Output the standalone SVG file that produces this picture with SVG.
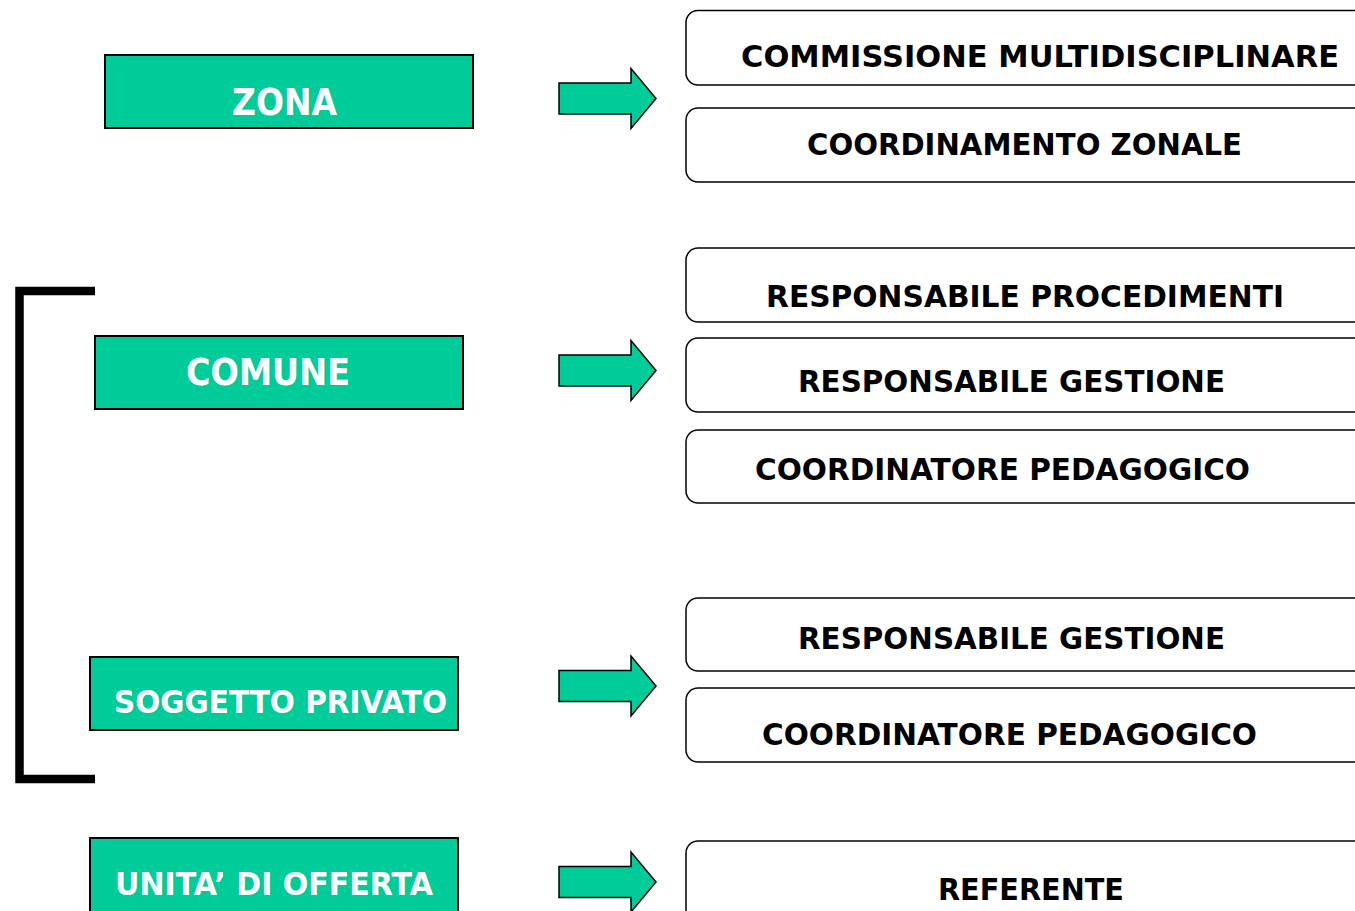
<svg xmlns="http://www.w3.org/2000/svg" width="1355" height="911" viewBox="0 0 1355 911">
<defs>
<style>
.lv{fill:#00CC99;stroke:#000;stroke-width:2}
.lt{font-family:"DejaVu Sans",Verdana,sans-serif;font-weight:bold;fill:#fff}
.rb{fill:#fff;stroke:#000;stroke-width:1.5}
.rt{font-family:"DejaVu Sans",Verdana,sans-serif;font-weight:bold;fill:#000;font-size:30px}
.ar{fill:#00CC99;stroke:#000;stroke-width:1.5;stroke-linejoin:miter}
.br{fill:none;stroke:#000;stroke-width:8.5}
</style>
<path id="arr" d="M559,-15.5 H631 V-30 L656,0 L631,30 V15.5 H559 Z"/>
</defs>
<rect width="1355" height="911" fill="#fff"/>

<g id="connectors">
<path class="br" d="M95,291 H19.5 V779 H95"/>
<use href="#arr" class="ar" transform="translate(0,98.5)"/>
<use href="#arr" class="ar" transform="translate(0,370.5)"/>
<use href="#arr" class="ar" transform="translate(0,686)"/>
<use href="#arr" class="ar" transform="translate(0,882)"/>
</g>

<g id="zona"><rect class="lv" x="105" y="55" width="368" height="73"/><text class="lt" x="232" y="115" font-size="37" textLength="105" lengthAdjust="spacingAndGlyphs">ZONA</text></g>
<g id="comune"><rect class="lv" x="95" y="336" width="368" height="73"/><text class="lt" x="186" y="385" font-size="37" textLength="164" lengthAdjust="spacingAndGlyphs">COMUNE</text></g>
<g id="soggetto"><rect class="lv" x="90" y="657" width="368" height="73"/><text class="lt" x="114" y="713" font-size="32" textLength="333" lengthAdjust="spacingAndGlyphs">SOGGETTO PRIVATO</text></g>
<g id="unita"><rect class="lv" x="90" y="838" width="368" height="90"/><text class="lt" x="115" y="895" font-size="32" textLength="318" lengthAdjust="spacingAndGlyphs">UNITA’ DI OFFERTA</text></g>

<g id="commissione"><rect class="rb" x="686" y="10.5" width="720" height="74.5" rx="12"/><text class="rt" x="741" y="67" textLength="598" lengthAdjust="spacingAndGlyphs">COMMISSIONE MULTIDISCIPLINARE</text></g>
<g id="coordinamento"><rect class="rb" x="686" y="108" width="720" height="74" rx="12"/><text class="rt" x="807" y="155" textLength="435" lengthAdjust="spacingAndGlyphs">COORDINAMENTO ZONALE</text></g>
<g id="resp-proc"><rect class="rb" x="686" y="248" width="720" height="74" rx="12"/><text class="rt" x="766" y="307" textLength="518" lengthAdjust="spacingAndGlyphs">RESPONSABILE PROCEDIMENTI</text></g>
<g id="resp-gest-1"><rect class="rb" x="686" y="338" width="720" height="74" rx="12"/><text class="rt" x="798" y="392" textLength="427" lengthAdjust="spacingAndGlyphs">RESPONSABILE GESTIONE</text></g>
<g id="coord-ped-1"><rect class="rb" x="686" y="430" width="720" height="73" rx="12"/><text class="rt" x="755" y="480" textLength="495" lengthAdjust="spacingAndGlyphs">COORDINATORE PEDAGOGICO</text></g>
<g id="resp-gest-2"><rect class="rb" x="686" y="598" width="720" height="73" rx="12"/><text class="rt" x="798" y="649" textLength="427" lengthAdjust="spacingAndGlyphs">RESPONSABILE GESTIONE</text></g>
<g id="coord-ped-2"><rect class="rb" x="686" y="688" width="720" height="74" rx="12"/><text class="rt" x="762" y="745" textLength="495" lengthAdjust="spacingAndGlyphs">COORDINATORE PEDAGOGICO</text></g>
<g id="referente"><rect class="rb" x="686" y="841" width="720" height="90" rx="12"/><text class="rt" x="938" y="900" textLength="186" lengthAdjust="spacingAndGlyphs">REFERENTE</text></g>
</svg>
